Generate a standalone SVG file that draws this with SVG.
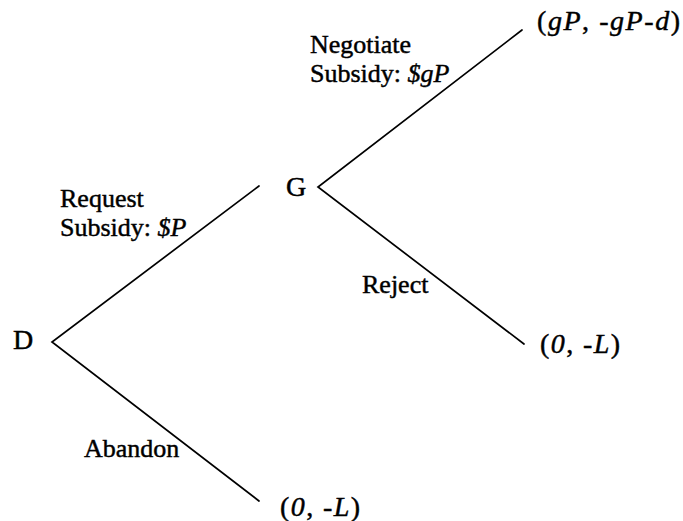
<svg xmlns="http://www.w3.org/2000/svg" width="683" height="521" viewBox="0 0 683 521">
<style>
.e{stroke:#000;stroke-width:1.7;fill:none;stroke-linecap:round}
text{font-family:"Liberation Serif","Times New Roman",serif;fill:#000;stroke:#000;stroke-width:0.45}
.n{font-size:28px}
.l{font-size:26px}
.p{font-size:28px}
.i{font-style:italic}
</style>
<rect width="683" height="521" fill="#fff"/>
<g id="connectors">
<polyline class="e" points="259,186 52,342 259,501"/>
<polyline class="e" points="522,30 318,187 524,344"/>
</g>
<g id="node-D"><text class="n" x="13" y="349">D</text></g>
<g id="node-G"><text class="n" x="286" y="196">G</text></g>
<g id="payoff-top"><text class="p" x="537" y="30" textLength="143" lengthAdjust="spacing">(<tspan class="i">gP</tspan>, <tspan class="i">-gP-d</tspan>)</text></g>
<g id="payoff-mid"><text class="p" x="540" y="353" textLength="80" lengthAdjust="spacing">(<tspan class="i">0</tspan>, <tspan class="i">-L</tspan>)</text></g>
<g id="payoff-bot"><text class="p" x="280" y="516" textLength="80" lengthAdjust="spacing">(<tspan class="i">0</tspan>, <tspan class="i">-L</tspan>)</text></g>
<g id="labels">
<text class="l" x="310" y="53">Negotiate</text>
<text class="l" x="310" y="82">Subsidy: <tspan class="i">$gP</tspan></text>
<text class="l" x="60" y="207">Request</text>
<text class="l" x="60" y="236">Subsidy: <tspan class="i">$P</tspan></text>
<text class="l" x="362" y="293">Reject</text>
<text class="l" x="84" y="457">Abandon</text>
</g>
</svg>
